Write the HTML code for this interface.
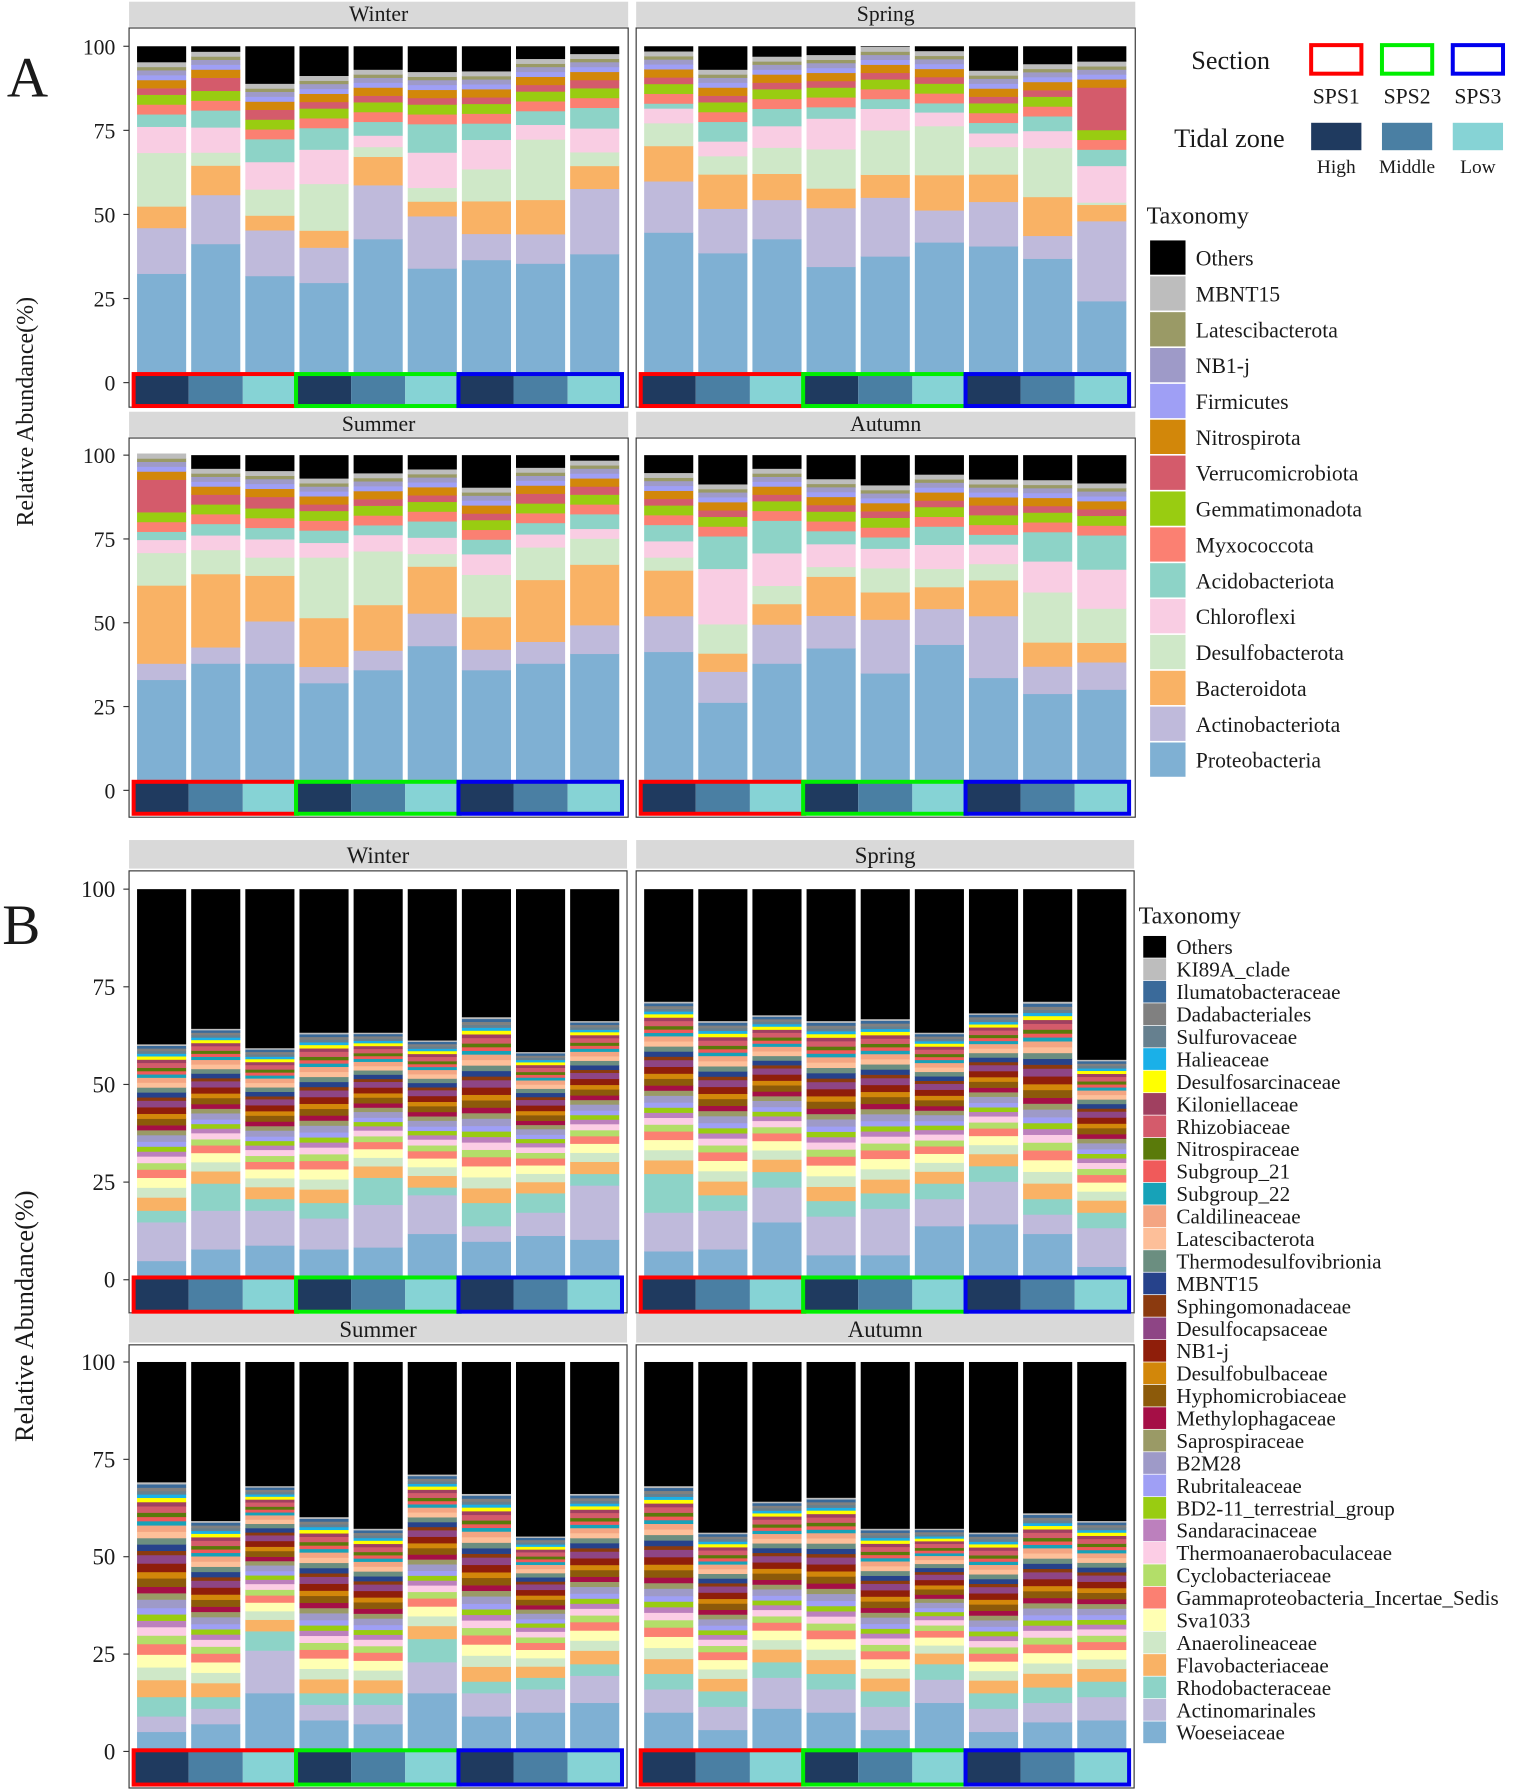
<!DOCTYPE html>
<html><head><meta charset="utf-8"><style>
html,body{margin:0;padding:0;background:#fff}
svg{display:block}
text{font-family:"Liberation Serif",serif;fill:#1a1a1a}
</style></head><body>
<svg id="c" width="1535" height="1792" viewBox="0 0 1344 1568" xmlns="http://www.w3.org/2000/svg"></svg>
<script>
// ---------- Panel A data ----------
const catsA=["Proteobacteria","Actinobacteriota","Bacteroidota","Desulfobacterota","Chloroflexi","Acidobacteriota","Myxococcota","Gemmatimonadota","Verrucomicrobiota","Nitrospirota","Firmicutes","NB1-j","Latescibacterota","MBNT15","Others"];
const colA=["#7fb0d3","#bfbadb","#f9b265","#cfe8c8","#f9cde3","#8dd3c7","#fb8072","#99cc11","#d45b6b","#d2870a","#9f9ff5","#9e9ac8","#9a9a66","#bdbdbd","#000000"];
const seasons=["Winter","Spring","Summer","Autumn"];
const aProteo=[[30.4,39.5,29.7,27.6,41,32,34.6,33.5,36.4],[43,36.7,41,32.5,35.7,40,38.8,35,22],[31,36,36,30,34,41.4,34,36,39],[39.6,24,36,40.7,33,41.8,31.6,26.7,28]];
const aActino=[[14,15,14,10.8,16.5,16,8,9,20],[15.7,13.6,12,18,18,9.8,13.6,7,24.5],[5,5,13,5,6,10,6.3,6.7,8.8],[11,9.5,12,10,16.5,11,19,8.4,8.4]];
const aBactero=[[6.6,9,4.5,5.2,8.7,4.5,10,10.5,7],[10.8,10.5,8,6,7,10.8,8.4,11.9,5],[24,22.5,14,15,14,14.4,10,19,18.6],[14,5.6,6.3,12,8.4,6.7,11,7.4,6]];
const aDesulfo=[[16.4,4,8,14.3,3,4.2,9.8,18.5,4.2],[7,5.6,8,12,13.6,15,8.4,15,0.7],[10,7.4,5.6,18.6,16.5,3.9,13,10,8],[4,9,5.6,3,7.4,5.6,5,15.4,10.5]];
const aChloro=[[8,7.7,8.4,10.5,3.5,10.8,9,4.5,7.3],[4.5,4.5,6.6,9.4,6.6,4.2,4.2,5.2,11.2],[4,4.5,5.6,4.5,5,5,6.3,4,3],[5,17,10,7,6,7.4,6,9.5,12]];
const aAcido=[[3.8,5.2,7,6.6,4.2,8.7,5,4.2,6.3],[1.5,6,5.3,3.5,3,2.8,3.2,4.5,5],[2.5,3.5,3.5,3.8,3,5,4.5,3.5,4.5],[5,10,10,4,3.5,5.6,3,9,10.5]];
const aVerruco=[[2,4,3,2,2,2,2,2,2.5],[2,2,2,2,2,2,2,2,13],[10,3,3.5,2,2,2,2,3,2.5],[2,2,2,2,2,2,3,2,2]];
const aSmall=[3,3,2.5,1.5,1.5,1,1.5];

// ---------- Panel B data ----------
const catsB=["Woeseiaceae","Actinomarinales","Rhodobacteraceae","Flavobacteriaceae","Anaerolineaceae","Sva1033","Gammaproteobacteria_Incertae_Sedis","Cyclobacteriaceae","Thermoanaerobaculaceae","Sandaracinaceae","BD2-11_terrestrial_group","Rubritaleaceae","B2M28","Saprospiraceae","Methylophagaceae","Hyphomicrobiaceae","Desulfobulbaceae","NB1-j","Desulfocapsaceae","Sphingomonadaceae","MBNT15","Thermodesulfovibrionia","Latescibacterota","Caldilineaceae","Subgroup_22","Subgroup_21","Nitrospiraceae","Rhizobiaceae","Kiloniellaceae","Desulfosarcinaceae","Halieaceae","Sulfurovaceae","Dadabacteriales","Ilumatobacteraceae","KI89A_clade","Others"];
const colB=["#7fb0d3","#bfbadb","#8dd3c7","#f9b265","#cfe8c8","#ffffb3","#fb8072","#b3de69","#fccde5","#bc80bd","#99cc11","#9f9ff5","#9e9ac8","#9a9a66","#a50f46","#8c5a0a","#d2870a","#8f1e0a","#8e4585","#8b3a0f","#26428b","#6b8e80","#fdbf99","#f4a582","#17a2b8","#f05a5a","#5a7a0a","#d45b6b","#a04060","#ffff00","#1ab0e8","#66808f","#808080","#3a6a9a","#bdbdbd","#000000"];
const bOthers=[[40,36,41,37,37,39,33,42,34],[29,34,32.5,34,33.5,37,32,29,44],[31,41,32,40,43,29,34,45,34],[32,44,36,35,43,43,44,39,41]];
const bWoese=[[4,7,8,7,7.5,11,9,10.5,9.5],[6.5,7,14,5.5,5.5,13,13.5,11,2.5],[4.5,6.5,14.5,7.5,6.5,14.5,8.5,9.5,12],[9.5,5,10.5,9.5,5,12,4.5,7,7.5]];
const bActino=[[10,10,9,8,11,10,4,6,14],[10,10,9,10,12,7,11,5,10],[4,4,11,4,5,8,6,6,7],[6,6,8,6,6,6,6,5,6]];
const bRhodo=[[3,7,3,4,7,2,6,5,3],[10,4,4,4,4,4,4,4,4],[5,3,5,3,3,6,3,3,3],[4,4,4,4,4,4,4,4,4]];
const bSmall=[4,3,3,2.5,2,2,1.5,1.5,1.5,2,1.5,1.5,2,1.5,2,2,1,1.5,1.5,1.5,1.5,1,1,1,1.5,1,1,0.8,0.8,0.8,0.8,0.5];

const NS="http://www.w3.org/2000/svg";
const svg=document.getElementById('c');
function mk(tag,attrs,parent){const e=document.createElementNS(NS,tag);for(const k in attrs)e.setAttribute(k,attrs[k]);(parent||svg).appendChild(e);return e;}
function txt(x,y,s,size,anchor,parent){const t=mk('text',{x:x,y:y,'font-size':size,'text-anchor':anchor||'start'},parent);t.textContent=s;return t;}

const tileCol=["#1f3a5f","#4a7fa3","#86d3d5"];
const secCol=["#ff0000","#00ee00","#0000ee"];

function barsA(f){const out=[];for(let b=0;b<9;b++){const v=[aProteo[f][b],aActino[f][b],aBactero[f][b],aDesulfo[f][b],aChloro[f][b],aAcido[f][b],aSmall[0],aSmall[1],aVerruco[f][b],aSmall[2],aSmall[3],aSmall[4],aSmall[5],aSmall[6]];let s=v.reduce((a,c)=>a+c,0);v.push(Math.max(0,100-s));out.push(v);}return out;}
function barsB(f){const out=[];for(let b=0;b<9;b++){const fixed=bWoese[f][b]+bActino[f][b]+bRhodo[f][b];const rem=Math.max(0,100-bOthers[f][b]-fixed);const ws=bSmall.reduce((a,c)=>a+c,0);const v=[bWoese[f][b],bActino[f][b],bRhodo[f][b]];bSmall.forEach(w=>v.push(rem*w/ws));v.push(bOthers[f][b]);out.push(v);}return out;}

function facet(o){
  const g=mk('g',{});
  
  
  const st=mk('rect',{x:o.x,y:o.sy,width:o.w,height:o.sh,fill:'#d9d9d9'},g);
  
  txt(o.x+o.w/2,o.sy+o.sh-5,o.title,o.fs,'middle',g);
  const box=mk('rect',{x:o.x,y:o.by,width:o.w,height:o.bh,fill:'#fff',stroke:'#333','stroke-width':1},g);
  
  const yv=v=>o.b0-(v/100)*(o.b0-o.b100);
  const bw=43,step=47.4,off=7;
  o.data.forEach((vals,bi)=>{
    let cum=0;const bx=o.x+off+bi*step;
    vals.forEach((v,ci)=>{if(v<=0)return;const y1=yv(cum+v),y0=yv(cum);cum+=v;
      const r=mk('rect',{x:bx,y:y1,width:bw,height:Math.max(0,y0-y1)+0.3,fill:o.cols[ci]},g);
      });
  });
  const ty=o.b0+1,th=o.tileH;
  for(let s=0;s<3;s++){
    for(let k=0;k<3;k++){const bi=s*3+k;const bx=o.x+off+bi*step-2.2;
      const t=mk('rect',{x:bx,y:ty,width:step,height:th,fill:tileCol[k]},g);
      }
    const sx=o.x+off+s*3*step-3,sw=3*step+1;
    const sb=mk('rect',{x:sx,y:ty,width:sw,height:th,fill:'none',stroke:secCol[s],'stroke-width':3.5},g);
    
  }
  if(o.axis){
    const z=o.zeroY;const ticks=[0,25,50,75,100];
    ticks.forEach(t=>{const y=z-(t/100)*(z-o.b100);
      mk('line',{x1:o.x-5,x2:o.x,y1:y,y2:y,stroke:'#333','stroke-width':1},g);
      const l=txt(o.x-12,y+7,String(t),o.fs,'end',g);});
  }
}

const A=[{x:113,sy:1,by:24,bh:332,b100:40,b0:326,zero:334.5},{x:557,sy:1,by:24,bh:332,b100:40,b0:326,zero:334.5},{x:113,sy:360,by:383,bh:332,b100:398,b0:683,zero:691.5},{x:557,sy:360,by:383,bh:332,b100:398,b0:683,zero:691.5}];
A.forEach((p,i)=>facet({name:'panel-a-'+seasons[i].toLowerCase(),title:seasons[i],x:p.x,w:437,sy:p.sy,sh:22,by:p.by,bh:p.bh,b100:p.b100,b0:p.b0,zeroY:p.zero,tileH:28,fs:19,axis:(i%2===0),data:barsA(i),cols:colA}));
const B=[{x:113,sy:735,by:762,bh:387,b100:778,b0:1117,zero:1120},{x:557,sy:735,by:762,bh:387,b100:778,b0:1117,zero:1120},{x:113,sy:1150,by:1177,bh:388,b100:1192,b0:1531,zero:1533},{x:557,sy:1150,by:1177,bh:388,b100:1192,b0:1531,zero:1533}];
B.forEach((p,i)=>facet({name:'panel-b-'+seasons[i].toLowerCase(),title:seasons[i],x:p.x,w:436,sy:p.sy,sh:25,by:p.by,bh:p.bh,b100:p.b100,b0:p.b0,zeroY:p.zero,tileH:30,fs:20,axis:(i%2===0),data:barsB(i),cols:colB}));

let t=txt(6,84,'A',50);
t=txt(2,826,'B',50);
t=mk('text',{x:0,y:0,'font-size':21,'text-anchor':'middle',transform:'translate(29,360) rotate(-90)'});t.textContent='Relative Abundance(%)';

t=mk('text',{x:0,y:0,'font-size':23,'text-anchor':'middle',transform:'translate(29,1152) rotate(-90)'});t.textContent='Relative Abundance(%)';


t=txt(1043,60,'Section',23);
["SPS1","SPS2","SPS3"].forEach((s,i)=>{const x=1148+i*62;
  const r=mk('rect',{x:x,y:39,width:44,height:25,fill:'none',stroke:secCol[i],'stroke-width':3.5});
  
  txt(x+22,90,s,19,'middle');});
t=txt(1028,128,'Tidal zone',23);
["High","Middle","Low"].forEach((s,i)=>{const x=1148+i*62;
  const r=mk('rect',{x:x,y:107,width:44,height:24,fill:tileCol[i]});
  
  txt(x+22,151,s,17,'middle');});
t=txt(1004,195,'Taxonomy',21);
for(let i=0;i<catsA.length;i++){const ci=catsA.length-1-i;const y=210+i*31.4;
  const r=mk('rect',{x:1007,y:y,width:31,height:30,fill:colA[ci]});
  
  txt(1047,y+22,catsA[ci],19);}
t=txt(997,808,'Taxonomy',21);
for(let i=0;i<catsB.length;i++){const ci=catsB.length-1-i;const y=819+i*19.65;
  const r=mk('rect',{x:1001,y:y,width:20,height:19,fill:colB[ci]});
  
  txt(1030,y+16,catsB[ci],18.5);}
</script>
</body></html>
